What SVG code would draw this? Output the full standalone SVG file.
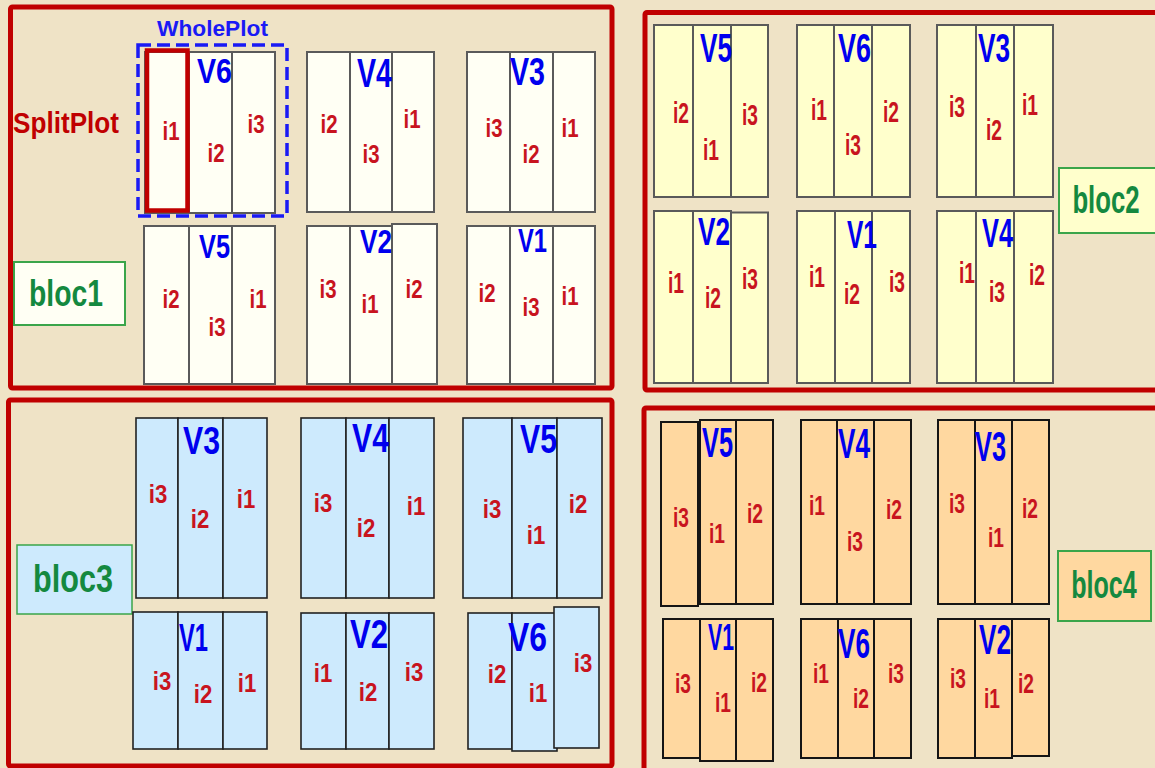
<svg xmlns="http://www.w3.org/2000/svg" width="1155" height="768" viewBox="0 0 1155 768">
<style>
.bg{fill:#efe3c6}
.frame{fill:none;stroke:#c00000;stroke-width:5}
.p1 rect{fill:#fffff4;stroke:#5a5a5a;stroke-width:2}
.p2 rect{fill:#ffffcc;stroke:#5a5a5a;stroke-width:2}
.p3 rect{fill:#cdeafd;stroke:#222;stroke-width:1.6}
.p4 rect{fill:#ffd8a0;stroke:#151515;stroke-width:2}
text{font-family:"Liberation Sans Narrow","Liberation Sans",Arial,sans-serif;font-weight:bold;text-anchor:middle}
.v{fill:#0000ee}
.i{fill:#c8141e}
.i1{font-size:25px}
.i2{font-size:29px}
.i3{font-size:26px}
.i4{font-size:28px}
.bl{fill:#14893f}
.blw{font-family:"Liberation Sans",Arial,sans-serif}
.blbox{stroke:#3aa54a;stroke-width:2}
</style>
<rect class="bg" x="0" y="0" width="1155" height="768"/>

<g id="frames">
<rect id="frame-bloc1" class="frame" x="10.5" y="7" width="601.5" height="381" rx="2"/>
<rect id="frame-bloc2" class="frame" x="645" y="12.5" width="515" height="377.5" rx="2"/>
<rect id="frame-bloc3" class="frame" x="8.5" y="400" width="603.5" height="366" rx="2"/>
<rect id="frame-bloc4" class="frame" x="644" y="408" width="516" height="365" rx="2"/>
</g>

<g id="connectors"/>

<!-- bloc1 -->
<g id="bloc1-label">
<rect class="blbox" x="14" y="262" width="111" height="63" fill="#fffff4"/>
<text class="bl" x="66" y="306" font-size="37" textLength="74" lengthAdjust="spacingAndGlyphs">bloc1</text>
</g>
<g id="splitplot-label">
<text x="66" y="133" font-size="29" fill="#c00000" textLength="106" lengthAdjust="spacingAndGlyphs">SplitPlot</text>
</g>
<g id="b1-V6" class="p1">
<rect x="145" y="52" width="44" height="161"/>
<rect x="189" y="52" width="43" height="161"/>
<rect x="232" y="52" width="43" height="161"/>
<rect x="147" y="50.5" width="40.5" height="160" style="fill:none;stroke:#c00000;stroke-width:4.5"/>
<text class="v" x="214.5" y="83" font-size="35" textLength="35" lengthAdjust="spacingAndGlyphs">V6</text>
<text class="i i1" x="171" y="140" textLength="17" lengthAdjust="spacingAndGlyphs">i1</text>
<text class="i i1" x="216" y="162" textLength="17" lengthAdjust="spacingAndGlyphs">i2</text>
<text class="i i1" x="256" y="133" textLength="17" lengthAdjust="spacingAndGlyphs">i3</text>
</g>
<g id="wholeplot">
<rect x="138" y="45" width="149" height="171" fill="none" stroke="#1a1af5" stroke-width="3.5" stroke-dasharray="13 6"/>
<text x="212.5" y="36" font-size="22" fill="#1a1af5" textLength="111" lengthAdjust="spacingAndGlyphs">WholePlot</text>
</g>
<g id="b1-V4" class="p1">
<rect x="307" y="52" width="43" height="160"/>
<rect x="350" y="52" width="42" height="160"/>
<rect x="392" y="52" width="42" height="160"/>
<text class="v" x="374.5" y="87" font-size="40" textLength="35" lengthAdjust="spacingAndGlyphs">V4</text>
<text class="i i1" x="329" y="133" textLength="17" lengthAdjust="spacingAndGlyphs">i2</text>
<text class="i i1" x="371" y="163" textLength="17" lengthAdjust="spacingAndGlyphs">i3</text>
<text class="i i1" x="412" y="128" textLength="17" lengthAdjust="spacingAndGlyphs">i1</text>
</g>
<g id="b1-V3" class="p1">
<rect x="467" y="52" width="43" height="160"/>
<rect x="510" y="52" width="43" height="160"/>
<rect x="553" y="52" width="42" height="160"/>
<text class="v" x="527.5" y="85" font-size="39" textLength="35" lengthAdjust="spacingAndGlyphs">V3</text>
<text class="i i1" x="494" y="137" textLength="17" lengthAdjust="spacingAndGlyphs">i3</text>
<text class="i i1" x="531" y="163" textLength="17" lengthAdjust="spacingAndGlyphs">i2</text>
<text class="i i1" x="570" y="137" textLength="17" lengthAdjust="spacingAndGlyphs">i1</text>
</g>
<g id="b1-V5" class="p1">
<rect x="144" y="226" width="45" height="158"/>
<rect x="189" y="226" width="43" height="158"/>
<rect x="232" y="226" width="43" height="158"/>
<text class="v" x="214.5" y="258" font-size="33" textLength="31" lengthAdjust="spacingAndGlyphs">V5</text>
<text class="i i1" x="171" y="308" textLength="17" lengthAdjust="spacingAndGlyphs">i2</text>
<text class="i i1" x="217" y="336" textLength="17" lengthAdjust="spacingAndGlyphs">i3</text>
<text class="i i1" x="258" y="308" textLength="17" lengthAdjust="spacingAndGlyphs">i1</text>
</g>
<g id="b1-V2" class="p1">
<rect x="307" y="226" width="43" height="158"/>
<rect x="350" y="226" width="42" height="158"/>
<rect x="392" y="224" width="45" height="160"/>
<text class="v" x="376" y="253" font-size="33" textLength="32" lengthAdjust="spacingAndGlyphs">V2</text>
<text class="i i1" x="328" y="298" textLength="17" lengthAdjust="spacingAndGlyphs">i3</text>
<text class="i i1" x="370" y="313" textLength="17" lengthAdjust="spacingAndGlyphs">i1</text>
<text class="i i1" x="414" y="298" textLength="17" lengthAdjust="spacingAndGlyphs">i2</text>
</g>
<g id="b1-V1" class="p1">
<rect x="467" y="226" width="43" height="158"/>
<rect x="510" y="226" width="43" height="158"/>
<rect x="553" y="226" width="42" height="158"/>
<text class="v" x="532.5" y="252" font-size="34" textLength="29" lengthAdjust="spacingAndGlyphs">V1</text>
<text class="i i1" x="487" y="302" textLength="17" lengthAdjust="spacingAndGlyphs">i2</text>
<text class="i i1" x="531" y="316" textLength="17" lengthAdjust="spacingAndGlyphs">i3</text>
<text class="i i1" x="570" y="305" textLength="17" lengthAdjust="spacingAndGlyphs">i1</text>
</g>

<!-- bloc2 -->
<g id="bloc2-label">
<rect class="blbox" x="1059" y="168" width="97" height="65" fill="#ffffcc"/>
<text class="bl blw" transform="translate(1106,213) scale(0.66,1)" x="0" y="0" font-size="39">bloc2</text>
</g>
<g id="b2-V5" class="p2">
<rect x="654" y="25" width="39" height="172"/>
<rect x="693" y="25" width="38" height="172"/>
<rect x="731" y="25" width="37" height="172"/>
<text class="v" x="716" y="62" font-size="40" textLength="32" lengthAdjust="spacingAndGlyphs">V5</text>
<text class="i i2" x="681" y="123" textLength="16" lengthAdjust="spacingAndGlyphs">i2</text>
<text class="i i2" x="711" y="160" textLength="16" lengthAdjust="spacingAndGlyphs">i1</text>
<text class="i i2" x="750" y="125" textLength="16" lengthAdjust="spacingAndGlyphs">i3</text>
</g>
<g id="b2-V6" class="p2">
<rect x="797" y="25" width="37" height="172"/>
<rect x="834" y="25" width="38" height="172"/>
<rect x="872" y="25" width="38" height="172"/>
<text class="v" x="854.5" y="62" font-size="40" textLength="33" lengthAdjust="spacingAndGlyphs">V6</text>
<text class="i i2" x="819" y="120" textLength="16" lengthAdjust="spacingAndGlyphs">i1</text>
<text class="i i2" x="853" y="155" textLength="16" lengthAdjust="spacingAndGlyphs">i3</text>
<text class="i i2" x="891" y="122" textLength="16" lengthAdjust="spacingAndGlyphs">i2</text>
</g>
<g id="b2-V3" class="p2">
<rect x="937" y="25" width="39" height="172"/>
<rect x="976" y="25" width="38" height="172"/>
<rect x="1014" y="25" width="39" height="172"/>
<text class="v" x="994" y="62" font-size="40" textLength="32" lengthAdjust="spacingAndGlyphs">V3</text>
<text class="i i2" x="957" y="117" textLength="16" lengthAdjust="spacingAndGlyphs">i3</text>
<text class="i i2" x="994" y="140" textLength="16" lengthAdjust="spacingAndGlyphs">i2</text>
<text class="i i2" x="1030" y="115" textLength="16" lengthAdjust="spacingAndGlyphs">i1</text>
</g>
<g id="b2-V2" class="p2">
<rect x="654" y="211" width="39" height="172"/>
<rect x="693" y="211" width="38" height="172"/>
<rect x="731" y="212.5" width="37" height="170.5"/>
<text class="v" x="714" y="245" font-size="39" textLength="32" lengthAdjust="spacingAndGlyphs">V2</text>
<text class="i i2" x="676" y="293" textLength="16" lengthAdjust="spacingAndGlyphs">i1</text>
<text class="i i2" x="713" y="308" textLength="16" lengthAdjust="spacingAndGlyphs">i2</text>
<text class="i i2" x="750" y="289" textLength="16" lengthAdjust="spacingAndGlyphs">i3</text>
</g>
<g id="b2-V1" class="p2">
<rect x="797" y="211" width="38" height="172"/>
<rect x="835" y="211" width="37" height="172"/>
<rect x="872" y="211" width="38" height="172"/>
<text class="v" x="862" y="248" font-size="39" textLength="30" lengthAdjust="spacingAndGlyphs">V1</text>
<text class="i i2" x="817" y="287" textLength="16" lengthAdjust="spacingAndGlyphs">i1</text>
<text class="i i2" x="852" y="304" textLength="16" lengthAdjust="spacingAndGlyphs">i2</text>
<text class="i i2" x="897" y="292" textLength="16" lengthAdjust="spacingAndGlyphs">i3</text>
</g>
<g id="b2-V4" class="p2">
<rect x="937" y="211" width="39" height="172"/>
<rect x="976" y="211" width="38" height="172"/>
<rect x="1014" y="211" width="39" height="172"/>
<text class="v" x="997.5" y="247" font-size="40" textLength="31" lengthAdjust="spacingAndGlyphs">V4</text>
<text class="i i2" x="967" y="283" textLength="16" lengthAdjust="spacingAndGlyphs">i1</text>
<text class="i i2" x="997" y="302" textLength="16" lengthAdjust="spacingAndGlyphs">i3</text>
<text class="i i2" x="1037" y="285" textLength="16" lengthAdjust="spacingAndGlyphs">i2</text>
</g>

<!-- bloc3 -->
<g id="bloc3-label">
<rect class="blbox" x="17" y="545" width="115" height="69" fill="#cdeafd" style="stroke-width:1.5"/>
<text class="bl" x="73" y="592" font-size="39" textLength="80" lengthAdjust="spacingAndGlyphs">bloc3</text>
</g>
<g id="b3-V3" class="p3">
<rect x="136" y="418" width="42" height="180"/>
<rect x="178" y="418" width="45" height="180"/>
<rect x="223" y="418" width="44" height="180"/>
<text class="v" x="201.5" y="454" font-size="38" textLength="37" lengthAdjust="spacingAndGlyphs">V3</text>
<text class="i i3" x="158" y="503" textLength="18.5" lengthAdjust="spacingAndGlyphs">i3</text>
<text class="i i3" x="200" y="528" textLength="18.5" lengthAdjust="spacingAndGlyphs">i2</text>
<text class="i i3" x="246" y="508" textLength="18.5" lengthAdjust="spacingAndGlyphs">i1</text>
</g>
<g id="b3-V1" class="p3">
<rect x="133" y="612" width="45" height="137"/>
<rect x="178" y="612" width="45" height="137"/>
<rect x="223" y="612" width="44" height="137"/>
<text class="v" x="193.5" y="651" font-size="38" textLength="29" lengthAdjust="spacingAndGlyphs">V1</text>
<text class="i i3" x="162" y="690" textLength="18.5" lengthAdjust="spacingAndGlyphs">i3</text>
<text class="i i3" x="203" y="703" textLength="18.5" lengthAdjust="spacingAndGlyphs">i2</text>
<text class="i i3" x="247" y="692" textLength="18.5" lengthAdjust="spacingAndGlyphs">i1</text>
</g>
<g id="b3-V4" class="p3">
<rect x="301" y="418" width="45" height="180"/>
<rect x="346" y="418" width="43" height="180"/>
<rect x="389" y="418" width="45" height="180"/>
<text class="v" x="370.5" y="452" font-size="40" textLength="37" lengthAdjust="spacingAndGlyphs">V4</text>
<text class="i i3" x="323" y="512" textLength="18.5" lengthAdjust="spacingAndGlyphs">i3</text>
<text class="i i3" x="366" y="537" textLength="18.5" lengthAdjust="spacingAndGlyphs">i2</text>
<text class="i i3" x="416" y="515" textLength="18.5" lengthAdjust="spacingAndGlyphs">i1</text>
</g>
<g id="b3-V5" class="p3">
<rect x="463" y="418" width="49" height="180"/>
<rect x="512" y="418" width="45" height="180"/>
<rect x="557" y="418" width="45" height="180"/>
<text class="v" x="538.5" y="453" font-size="40" textLength="37" lengthAdjust="spacingAndGlyphs">V5</text>
<text class="i i3" x="492" y="518" textLength="18.5" lengthAdjust="spacingAndGlyphs">i3</text>
<text class="i i3" x="536" y="544" textLength="18.5" lengthAdjust="spacingAndGlyphs">i1</text>
<text class="i i3" x="578" y="513" textLength="18.5" lengthAdjust="spacingAndGlyphs">i2</text>
</g>
<g id="b3-V2" class="p3">
<rect x="301" y="613" width="45" height="136"/>
<rect x="346" y="613" width="43" height="136"/>
<rect x="389" y="613" width="45" height="136"/>
<text class="v" x="369" y="648" font-size="41" textLength="38" lengthAdjust="spacingAndGlyphs">V2</text>
<text class="i i3" x="323" y="682" textLength="18.5" lengthAdjust="spacingAndGlyphs">i1</text>
<text class="i i3" x="368" y="701" textLength="18.5" lengthAdjust="spacingAndGlyphs">i2</text>
<text class="i i3" x="414" y="681" textLength="18.5" lengthAdjust="spacingAndGlyphs">i3</text>
</g>
<g id="b3-V6" class="p3">
<rect x="468" y="613" width="44" height="136"/>
<rect x="512" y="613" width="45" height="138"/>
<rect x="554" y="607" width="45" height="141"/>
<text class="v" x="527.5" y="651" font-size="40" textLength="39" lengthAdjust="spacingAndGlyphs">V6</text>
<text class="i i3" x="497" y="683" textLength="18.5" lengthAdjust="spacingAndGlyphs">i2</text>
<text class="i i3" x="538" y="702" textLength="18.5" lengthAdjust="spacingAndGlyphs">i1</text>
<text class="i i3" x="583" y="672" textLength="18.5" lengthAdjust="spacingAndGlyphs">i3</text>
</g>

<!-- bloc4 -->
<g id="bloc4-label">
<rect class="blbox" x="1058" y="551" width="93" height="70" fill="#ffd8a0"/>
<text class="bl blw" transform="translate(1104,598) scale(0.66,1)" x="0" y="0" font-size="38">bloc4</text>
</g>
<g id="b4-V5" class="p4">
<rect x="661" y="422" width="37" height="184"/>
<rect x="700" y="420" width="36" height="184"/>
<rect x="736" y="420" width="37" height="184"/>
<text class="v" x="717.5" y="457" font-size="42" textLength="31" lengthAdjust="spacingAndGlyphs">V5</text>
<text class="i i4" x="681" y="527" textLength="16" lengthAdjust="spacingAndGlyphs">i3</text>
<text class="i i4" x="717" y="543" textLength="16" lengthAdjust="spacingAndGlyphs">i1</text>
<text class="i i4" x="755" y="523" textLength="16" lengthAdjust="spacingAndGlyphs">i2</text>
</g>
<g id="b4-V4" class="p4">
<rect x="801" y="420" width="36" height="184"/>
<rect x="837" y="420" width="37" height="184"/>
<rect x="874" y="420" width="37" height="184"/>
<text class="v" x="854" y="458" font-size="42" textLength="32" lengthAdjust="spacingAndGlyphs">V4</text>
<text class="i i4" x="817" y="515" textLength="16" lengthAdjust="spacingAndGlyphs">i1</text>
<text class="i i4" x="855" y="551" textLength="16" lengthAdjust="spacingAndGlyphs">i3</text>
<text class="i i4" x="894" y="519" textLength="16" lengthAdjust="spacingAndGlyphs">i2</text>
</g>
<g id="b4-V3" class="p4">
<rect x="938" y="420" width="37" height="184"/>
<rect x="975" y="420" width="37" height="184"/>
<rect x="1012" y="420" width="37" height="184"/>
<text class="v" x="990.5" y="461" font-size="42" textLength="31" lengthAdjust="spacingAndGlyphs">V3</text>
<text class="i i4" x="957" y="513" textLength="16" lengthAdjust="spacingAndGlyphs">i3</text>
<text class="i i4" x="996" y="547" textLength="16" lengthAdjust="spacingAndGlyphs">i1</text>
<text class="i i4" x="1030" y="518" textLength="16" lengthAdjust="spacingAndGlyphs">i2</text>
</g>
<g id="b4-V1" class="p4">
<rect x="663" y="619" width="37" height="139"/>
<rect x="700" y="619" width="36" height="142"/>
<rect x="736" y="619" width="37" height="142"/>
<text class="v" x="721" y="650" font-size="37" textLength="26" lengthAdjust="spacingAndGlyphs">V1</text>
<text class="i i4" x="683" y="693" textLength="16" lengthAdjust="spacingAndGlyphs">i3</text>
<text class="i i4" x="723" y="712" textLength="16" lengthAdjust="spacingAndGlyphs">i1</text>
<text class="i i4" x="759" y="692" textLength="16" lengthAdjust="spacingAndGlyphs">i2</text>
</g>
<g id="b4-V6" class="p4">
<rect x="801" y="619" width="37" height="139"/>
<rect x="838" y="619" width="36" height="139"/>
<rect x="874" y="619" width="37" height="139"/>
<text class="v" x="854" y="658" font-size="42" textLength="32" lengthAdjust="spacingAndGlyphs">V6</text>
<text class="i i4" x="821" y="683" textLength="16" lengthAdjust="spacingAndGlyphs">i1</text>
<text class="i i4" x="861" y="708" textLength="16" lengthAdjust="spacingAndGlyphs">i2</text>
<text class="i i4" x="896" y="683" textLength="16" lengthAdjust="spacingAndGlyphs">i3</text>
</g>
<g id="b4-V2" class="p4">
<rect x="938" y="619" width="37" height="139"/>
<rect x="975" y="619" width="37" height="139"/>
<rect x="1012" y="619" width="37" height="137"/>
<text class="v" x="995" y="654" font-size="42" textLength="32" lengthAdjust="spacingAndGlyphs">V2</text>
<text class="i i4" x="958" y="688" textLength="16" lengthAdjust="spacingAndGlyphs">i3</text>
<text class="i i4" x="992" y="708" textLength="16" lengthAdjust="spacingAndGlyphs">i1</text>
<text class="i i4" x="1026" y="693" textLength="16" lengthAdjust="spacingAndGlyphs">i2</text>
</g>
</svg>
